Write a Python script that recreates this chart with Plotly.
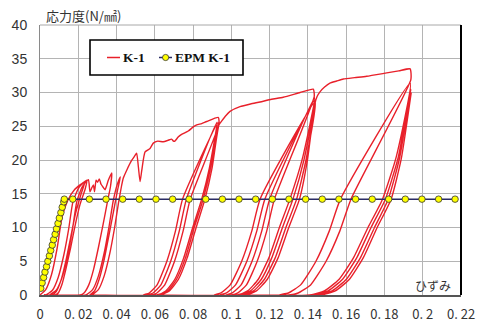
import plotly.graph_objects as go

# ---------------- data ----------------
x_tick_vals = [0, 0.02, 0.04, 0.06, 0.08, 0.1, 0.12, 0.14, 0.16, 0.18, 0.2, 0.22]
x_tick_text = ["0", "0. 02", "0. 04", "0. 06", "0. 08", "0. 1", "0. 12", "0. 14", "0. 16", "0. 18", "0. 2", "0. 22"]
y_tick_vals = [0, 5, 10, 15, 20, 25, 30, 35, 40]

epm_strain = [0.0004, 0.0011, 0.0019, 0.0026, 0.0034, 0.0041, 0.0049, 0.0056, 0.0064, 0.0071,
              0.0079, 0.0086, 0.0094, 0.0101, 0.0109, 0.0116, 0.0124, 0.0127,
              0.0171, 0.0258, 0.0345, 0.0432, 0.0519, 0.0606, 0.0693, 0.0779, 0.0866, 0.0953,
              0.1040, 0.1127, 0.1214, 0.1301, 0.1388, 0.1475, 0.1562, 0.1649, 0.1736, 0.1822,
              0.1909, 0.1996, 0.2083, 0.2169]
epm_stress = [1.0, 1.8, 2.6, 3.4, 4.2, 5.0, 5.8, 6.6, 7.4, 8.2,
              9.0, 9.8, 10.6, 11.4, 12.2, 13.0, 13.8, 14.2,
              14.2, 14.2, 14.2, 14.2, 14.2, 14.2, 14.2, 14.2, 14.2, 14.2,
              14.2, 14.2, 14.2, 14.2, 14.2, 14.2, 14.2, 14.2, 14.2, 14.2,
              14.2, 14.2, 14.2, 14.2]

# K-1 measured curve, [strain, stress] pairs in loading order
k1_stage1 = [
    [0, 0], [0.003, 0.8], [0.006, 3], [0.009, 7], [0.0115, 11.5], [0.0145, 14], [0.018, 15.6], [0.0235, 16.8],
    [0.0215, 15], [0.0185, 12], [0.016, 8.5], [0.0135, 5], [0.011, 2.2], [0.0085, 0.5], [0.006, 0], [0.002, 0],
    [0.003, 0], [0.0065, 0.7], [0.0095, 2.6], [0.0125, 6], [0.015, 9.8], [0.0172, 13.8], [0.0205, 16], [0.0245, 17.0],
    [0.0235, 15.6], [0.021, 13.5], [0.0185, 10.5], [0.016, 7], [0.0135, 3.8], [0.0115, 1.6], [0.0095, 0.3], [0.008, 0],
    [0.005, 0], [0.0085, 0.7], [0.0115, 2.6], [0.0145, 6], [0.017, 9.8], [0.0192, 13.8], [0.022, 16], [0.0253, 17.1],
    [0.0261, 15.3], [0.0271, 15.9], [0.0279, 16.3], [0.0285, 15.3], [0.0293, 17.0], [0.0301, 16.7], [0.031, 17.2],
    [0.0319, 16.4], [0.0329, 16.0], [0.034, 15.6], [0.0357, 17.0], [0.0375, 18.1],
]
k1_stage2 = [
    [0.0368, 16], [0.0355, 14.2], [0.033, 10.5], [0.0305, 7], [0.028, 3.8], [0.0255, 1.5], [0.023, 0.3], [0.021, 0],
    [0.009, 0], [0.024, 0],
    [0.0275, 0.8], [0.0305, 2.8], [0.0335, 6.2], [0.036, 10], [0.0383, 14], [0.0405, 16.5], [0.042, 17.5],
    [0.0405, 15.5], [0.0385, 12.5], [0.036, 8.8], [0.0335, 5.2], [0.031, 2.4], [0.0285, 0.6], [0.026, 0], [0.027, 0],
    [0.0305, 0.8], [0.0335, 2.8], [0.0365, 6.2], [0.039, 10], [0.041, 13.6], [0.0425, 16], [0.0435, 17.3],
    [0.0455, 18.6], [0.0478, 19.9], [0.0495, 20.6], [0.0505, 21.0], [0.0514, 19], [0.0523, 16.8], [0.0532, 18.5],
    [0.0549, 21.2], [0.0575, 21.7], [0.0592, 22.5], [0.0615, 22.8], [0.0644, 22.7], [0.0668, 22.9], [0.0688, 23.1],
    [0.0697, 22.8], [0.0705, 22.8], [0.0722, 23.4], [0.074, 23.8], [0.0775, 24.3], [0.0801, 24.9], [0.0819, 25.2],
    [0.0845, 25.4], [0.0871, 25.7], [0.0932, 26.3],
]
k1_stage3 = [
    [0.0935, 25.3], [0.0785, 14.2], [0.0748, 9.5], [0.0703, 5], [0.0652, 1.5], [0.0611, 0.3], [0.058, 0],
    [0.027, 0], [0.061, 0],
    [0.0657, 0.6], [0.0704, 2.3], [0.0751, 5.5], [0.0798, 10], [0.0845, 14.2], [0.0885, 18.8], [0.0925, 25.6],
    [0.0765, 14.2], [0.0728, 9.5], [0.0683, 5], [0.0632, 1.5], [0.0591, 0.3], [0.056, 0], [0.062, 0],
    [0.0667, 0.6], [0.0713, 2.3], [0.076, 5.5], [0.0806, 10], [0.0853, 14.2], [0.0891, 18.8], [0.093, 25.5],
    [0.0745, 14.2], [0.0708, 9.5], [0.0663, 5], [0.0612, 1.5], [0.0571, 0.3], [0.054, 0], [0.063, 0],
    [0.0676, 0.6], [0.0723, 2.3], [0.0769, 5.5], [0.0816, 10], [0.0862, 14.2], [0.0899, 18.8], [0.0935, 25.2],
    [0.095, 25.8], [0.0972, 26.6], [0.0993, 27.2], [0.1045, 27.9], [0.11, 28.3], [0.115, 28.6], [0.121, 29.0],
    [0.1271, 29.3], [0.1359, 30.0], [0.1428, 30.5],
]
k1_stage4 = [
    [0.1433, 29.4], [0.1225, 14.2], [0.1185, 9.5], [0.1135, 5], [0.1079, 1.5], [0.1034, 0.3], [0.100, 0],
    [0.058, 0], [0.103, 0],
    [0.1085, 0.6], [0.114, 2.3], [0.1196, 5.5], [0.1251, 10], [0.1306, 14.2], [0.1371, 20.2], [0.1435, 29.2],
    [0.12, 14.2], [0.1159, 9.5], [0.1108, 5], [0.1051, 1.5], [0.1005, 0.3], [0.097, 0], [0.1045, 0],
    [0.11, 0.6], [0.1156, 2.3], [0.1211, 5.5], [0.1267, 10], [0.1322, 14.2], [0.138, 20.1], [0.1437, 28.9],
    [0.1175, 14.2], [0.1133, 9.5], [0.1081, 5], [0.1022, 1.5], [0.0975, 0.3], [0.094, 0], [0.106, 0],
    [0.1116, 0.6], [0.1172, 2.3], [0.1229, 5.5], [0.1285, 10], [0.1341, 14.2], [0.139, 20], [0.1438, 28.6],
    [0.115, 14.2], [0.1107, 9.5], [0.1054, 5], [0.0994, 1.5], [0.0946, 0.3], [0.091, 0], [0.1075, 0],
    [0.1131, 0.6], [0.1187, 2.3], [0.1244, 5.5], [0.13, 10], [0.1356, 14.2], [0.1397, 19.9], [0.1437, 28.4],
    [0.1448, 29.4], [0.1463, 30.1], [0.1487, 30.8], [0.1515, 31.4], [0.155, 31.7], [0.1585, 32.0], [0.1645, 32.2],
    [0.1707, 32.4], [0.1812, 32.9], [0.1875, 33.2], [0.1934, 33.5],
]
k1_stage5 = [
    [0.1938, 31.9], [0.1625, 14.2], [0.1567, 9.5], [0.1495, 5], [0.1414, 1.5], [0.1349, 0.3], [0.130, 0],
    [0.100, 0], [0.141, 0],
    [0.1486, 0.6], [0.1562, 2.3], [0.1638, 5.5], [0.1714, 10], [0.179, 14.2], [0.1862, 20.5], [0.1935, 31.4],
    [0.157, 14.2], [0.1512, 9.5], [0.1442, 5], [0.1362, 1.5], [0.1298, 0.3], [0.125, 0], [0.143, 0],
    [0.1505, 0.6], [0.158, 2.3], [0.1655, 5.5], [0.173, 10], [0.1805, 14.2], [0.1872, 20.4], [0.1938, 30.5],
    [0.1879, 20.3], [0.182, 14.2], [0.1748, 10], [0.1674, 5.5], [0.16, 2.3], [0.1526, 0.6], [0.145, 0], [0.147, 0],
    [0.1543, 0.6], [0.1616, 2.3], [0.1689, 5.5], [0.1762, 10], [0.1835, 14.2], [0.1888, 20.2], [0.194, 30.0],
]

k1_pairs = k1_stage1 + k1_stage2 + k1_stage3 + k1_stage4 + k1_stage5
k1_strain = [p[0] for p in k1_pairs]
k1_stress = [p[1] for p in k1_pairs]

RED = "#e8202a"
NAVY = "#2a2c64"
YELLOW = "#ffff00"

fig = go.Figure()
fig.add_trace(go.Scatter(x=k1_strain, y=k1_stress, mode="lines", name="K-1",
                         line=dict(color=RED, width=1.4, shape="spline", smoothing=0.5),
                         showlegend=False, hoverinfo="skip"))
fig.add_trace(go.Scatter(x=epm_strain, y=epm_stress, mode="lines+markers", name="EPM K-1",
                         line=dict(color=NAVY, width=1.5),
                         marker=dict(symbol="circle", size=6.5, color=YELLOW, line=dict(color="#333333", width=0.8)),
                         showlegend=False, hoverinfo="skip"))

# plot area in pixels: x 40..461, y 25..295
def px(xp):
    return (xp - 40) / 421.0

def py(yp):
    return (295 - yp) / 270.0

shapes = [
    dict(type="line", xref="paper", yref="paper", x0=0, x1=1, y0=1, y1=1, line=dict(color="#a8a8a8", width=1), layer="above"),
    dict(type="line", xref="paper", yref="paper", x0=1, x1=1, y0=0, y1=1, line=dict(color="#000000", width=2), layer="above"),
    dict(type="rect", xref="paper", yref="paper", x0=px(90), x1=px(243), y0=py(75), y1=py(40),
         line=dict(color="#000000", width=1.6), fillcolor="white", layer="above"),
    dict(type="line", xref="paper", yref="paper", x0=px(107), x1=px(120), y0=py(57.5), y1=py(57.5),
         line=dict(color=RED, width=1.5), layer="above"),
    dict(type="line", xref="paper", yref="paper", x0=px(159), x1=px(172), y0=py(57.5), y1=py(57.5),
         line=dict(color=NAVY, width=1.5), layer="above"),
    dict(type="circle", xref="paper", yref="paper", x0=px(162.5), x1=px(168.7), y0=py(60.6), y1=py(54.4),
         line=dict(color="#333333", width=0.8), fillcolor=YELLOW, layer="above"),
]

annotations = [
    dict(text="応力度(N/㎟)", xref="paper", yref="paper", x=px(44), y=py(15), xanchor="left", yanchor="middle",
         showarrow=False, font=dict(family="Noto Sans CJK JP", size=13, color="#333333")),
    dict(text="ひずみ", xref="paper", yref="paper", x=px(433), y=py(285), xanchor="center", yanchor="middle",
         showarrow=False, font=dict(family="Noto Sans CJK JP", size=12, color="#333333")),
    dict(text="<b>K-1</b>", xref="paper", yref="paper", x=px(121), y=py(57.5), xanchor="left", yanchor="middle",
         showarrow=False, font=dict(family="Liberation Serif", size=13.5, color="#111111")),
    dict(text="<b>EPM K-1</b>", xref="paper", yref="paper", x=px(173), y=py(57.5), xanchor="left", yanchor="middle",
         showarrow=False, font=dict(family="Liberation Serif", size=13.5, color="#111111")),
]

fig.update_layout(
    width=478, height=322,
    margin=dict(l=40, r=17, t=25, b=27),
    paper_bgcolor="white", plot_bgcolor="white",
    showlegend=False,
    shapes=shapes, annotations=annotations,
    xaxis=dict(range=[0, 0.22], tickvals=x_tick_vals, ticktext=x_tick_text, automargin=False,
               showgrid=True, gridcolor="#b4b4b4", gridwidth=1, zeroline=False,
               showline=True, linecolor="#555555", linewidth=2, ticks="",
               ticklabelstandoff=6, layer="below traces",
               tickfont=dict(family="Noto Sans CJK JP", size=13, color="#333333")),
    yaxis=dict(range=[0, 40], tickvals=y_tick_vals, automargin=False,
               showgrid=True, gridcolor="#b4b4b4", gridwidth=1, zeroline=False,
               showline=True, linecolor="#8a8a8a", linewidth=1, ticks="",
               ticklabelstandoff=9, layer="below traces",
               tickfont=dict(family="Liberation Sans", size=14, color="#333333")),
)

fig.write_html("out.html")
